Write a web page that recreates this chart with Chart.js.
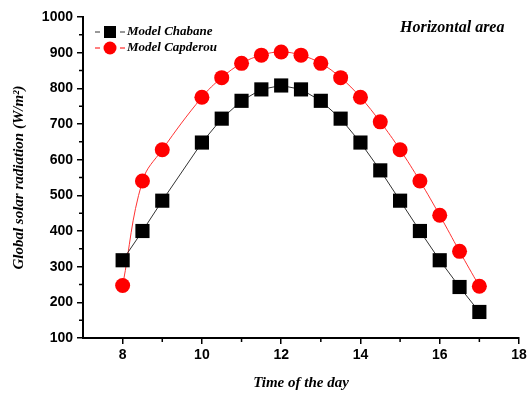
<!DOCTYPE html>
<html lang="en">
<head>
    <meta charset="UTF-8">
    <title>Global solar radiation</title>
    <script src="https://cdn.jsdelivr.net/npm/chart.js"></script>
    <style>
        body {
            margin: 0;
            background-color: #ffffff;
        }
        .chart-box {
            width: 530px;
            height: 396px;
        }
    </style>
</head>
<body>
    <div class="chart-box">
        <canvas id="radChart" width="530" height="396"></canvas>
    </div>

    <script>
        // hours of the day
        const hours = [8, 8.5, 9, 10, 10.5, 11, 11.5, 12, 12.5, 13, 13.5, 14, 14.5, 15, 15.5, 16, 16.5, 17];
        const chabane = [318, 400, 485, 648, 715, 765, 797, 808, 797, 765, 715, 648, 570, 485, 400, 318, 243, 173];
        const capderou = [247, 540, 628, 775, 830, 870, 893, 902, 893, 870, 830, 775, 706, 628, 540, 444, 343, 245];
        const xTicks = [8, 10, 12, 14, 16, 18];
        const xMinor = [9, 11, 13, 15, 17];
        const yMinor = [150, 250, 350, 450, 550, 650, 750, 850, 950];

        const toPoints = (vals) => vals.map((v, i) => ({ x: hours[i], y: v }));

        // minor ticks, legend and the little label
        const extras = {
            id: 'extras',
            afterDraw(chart) {
                const ctx = chart.ctx;
                const xs = chart.scales.x;
                const ys = chart.scales.y;
                const area = chart.chartArea;
                ctx.save();
                ctx.strokeStyle = '#000';
                ctx.lineWidth = 1.5;
                ctx.beginPath();
                xMinor.forEach(v => {
                    const px = xs.getPixelForValue(v);
                    ctx.moveTo(px, area.bottom);
                    ctx.lineTo(px, area.bottom + 4);
                });
                yMinor.forEach(v => {
                    const py = ys.getPixelForValue(v);
                    ctx.moveTo(area.left, py);
                    ctx.lineTo(area.left - 4, py);
                });
                ctx.stroke();

                // legend: short dash, marker, short dash
                const rows = [
                    { label: 'Model Chabane', color: '#000', line: '#333', shape: 'rect', y: 32 },
                    { label: 'Model Capderou', color: '#ff0000', line: '#ff0000', shape: 'circle', y: 48 }
                ];
                rows.forEach(r => {
                    ctx.strokeStyle = r.line;
                    ctx.lineWidth = 1;
                    ctx.beginPath();
                    ctx.moveTo(95, r.y);
                    ctx.lineTo(100, r.y);
                    ctx.moveTo(120, r.y);
                    ctx.lineTo(125, r.y);
                    ctx.stroke();
                    ctx.fillStyle = r.color;
                    if (r.shape === 'rect') {
                        ctx.fillRect(104, r.y - 6, 12, 12);
                    } else {
                        ctx.beginPath();
                        ctx.arc(110, r.y, 6.5, 0, Math.PI * 2);
                        ctx.fill();
                    }
                    ctx.fillStyle = '#000';
                    ctx.font = 'italic bold 13px "Liberation Serif", "DejaVu Serif", serif';
                    ctx.textBaseline = 'middle';
                    ctx.textAlign = 'left';
                    ctx.fillText(r.label, 127, r.y);
                });

                ctx.font = 'italic bold 16px "Liberation Serif", "DejaVu Serif", serif';
                ctx.fillStyle = '#000';
                ctx.textAlign = 'left';
                ctx.textBaseline = 'middle';
                ctx.fillText('Horizontal area', 400, 28);
                ctx.restore();
            }
        };

        const radChart = new Chart(document.getElementById('radChart').getContext('2d'), {
            type: 'line',
            data: {
                datasets: [{
                    label: 'Model Chabane',
                    data: toPoints(chabane),
                    borderColor: '#333333',
                    borderWidth: 1,
                    backgroundColor: '#000000',
                    pointStyle: 'rect',
                    pointRadius: 10,
                    pointBorderWidth: 0,
                    tension: 0
                }, {
                    label: 'Model Capderou',
                    data: toPoints(capderou),
                    borderColor: '#ff3333',
                    borderWidth: 1,
                    backgroundColor: '#ff0000',
                    pointStyle: 'circle',
                    pointRadius: 7.5,
                    pointBorderWidth: 0,
                    tension: 0.4
                }]
            },
            options: {
                responsive: false,
                animation: false,
                layout: {
                    padding: { top: 17, right: 11, left: 0, bottom: 0 }
                },
                plugins: {
                    legend: { display: false },
                    tooltip: { enabled: false }
                },
                scales: {
                    x: {
                        type: 'linear',
                        min: 7,
                        max: 18,
                        afterBuildTicks: (scale) => {
                            scale.ticks = xTicks.map(v => ({ value: v }));
                        },
                        afterFit: (scale) => { scale.height = 58; },
                        border: { display: true, color: '#000', width: 2 },
                        grid: { drawOnChartArea: false, drawTicks: true, tickLength: 6, color: '#000', lineWidth: 1.5 },
                        ticks: {
                            color: '#000',
                            padding: 3,
                            font: { family: '"Liberation Sans", Arial, sans-serif', size: 14, weight: 'bold' }
                        },
                        title: {
                            display: true,
                            text: 'Time of the day',
                            color: '#000',
                            padding: { top: 10 },
                            font: { family: '"Liberation Serif", "DejaVu Serif", serif', size: 15, weight: 'bold', style: 'italic' }
                        }
                    },
                    y: {
                        min: 100,
                        max: 1000,
                        afterFit: (scale) => { scale.width = 83; },
                        border: { display: true, color: '#000', width: 2 },
                        grid: { drawOnChartArea: false, drawTicks: true, tickLength: 6, color: '#000', lineWidth: 1.5 },
                        ticks: {
                            stepSize: 100,
                            color: '#000',
                            padding: 4,
                            callback: (v) => String(v),
                            font: { family: '"Liberation Sans", Arial, sans-serif', size: 14, weight: 'bold' }
                        },
                        title: {
                            display: true,
                            text: 'Global solar radiation (W/m²)',
                            color: '#000',
                            padding: { top: 10, bottom: 6 },
                            font: { family: '"Liberation Serif", "DejaVu Serif", serif', size: 15, weight: 'bold', style: 'italic' }
                        }
                    }
                }
            },
            plugins: [extras]
        });
    </script>
</body>
</html>
